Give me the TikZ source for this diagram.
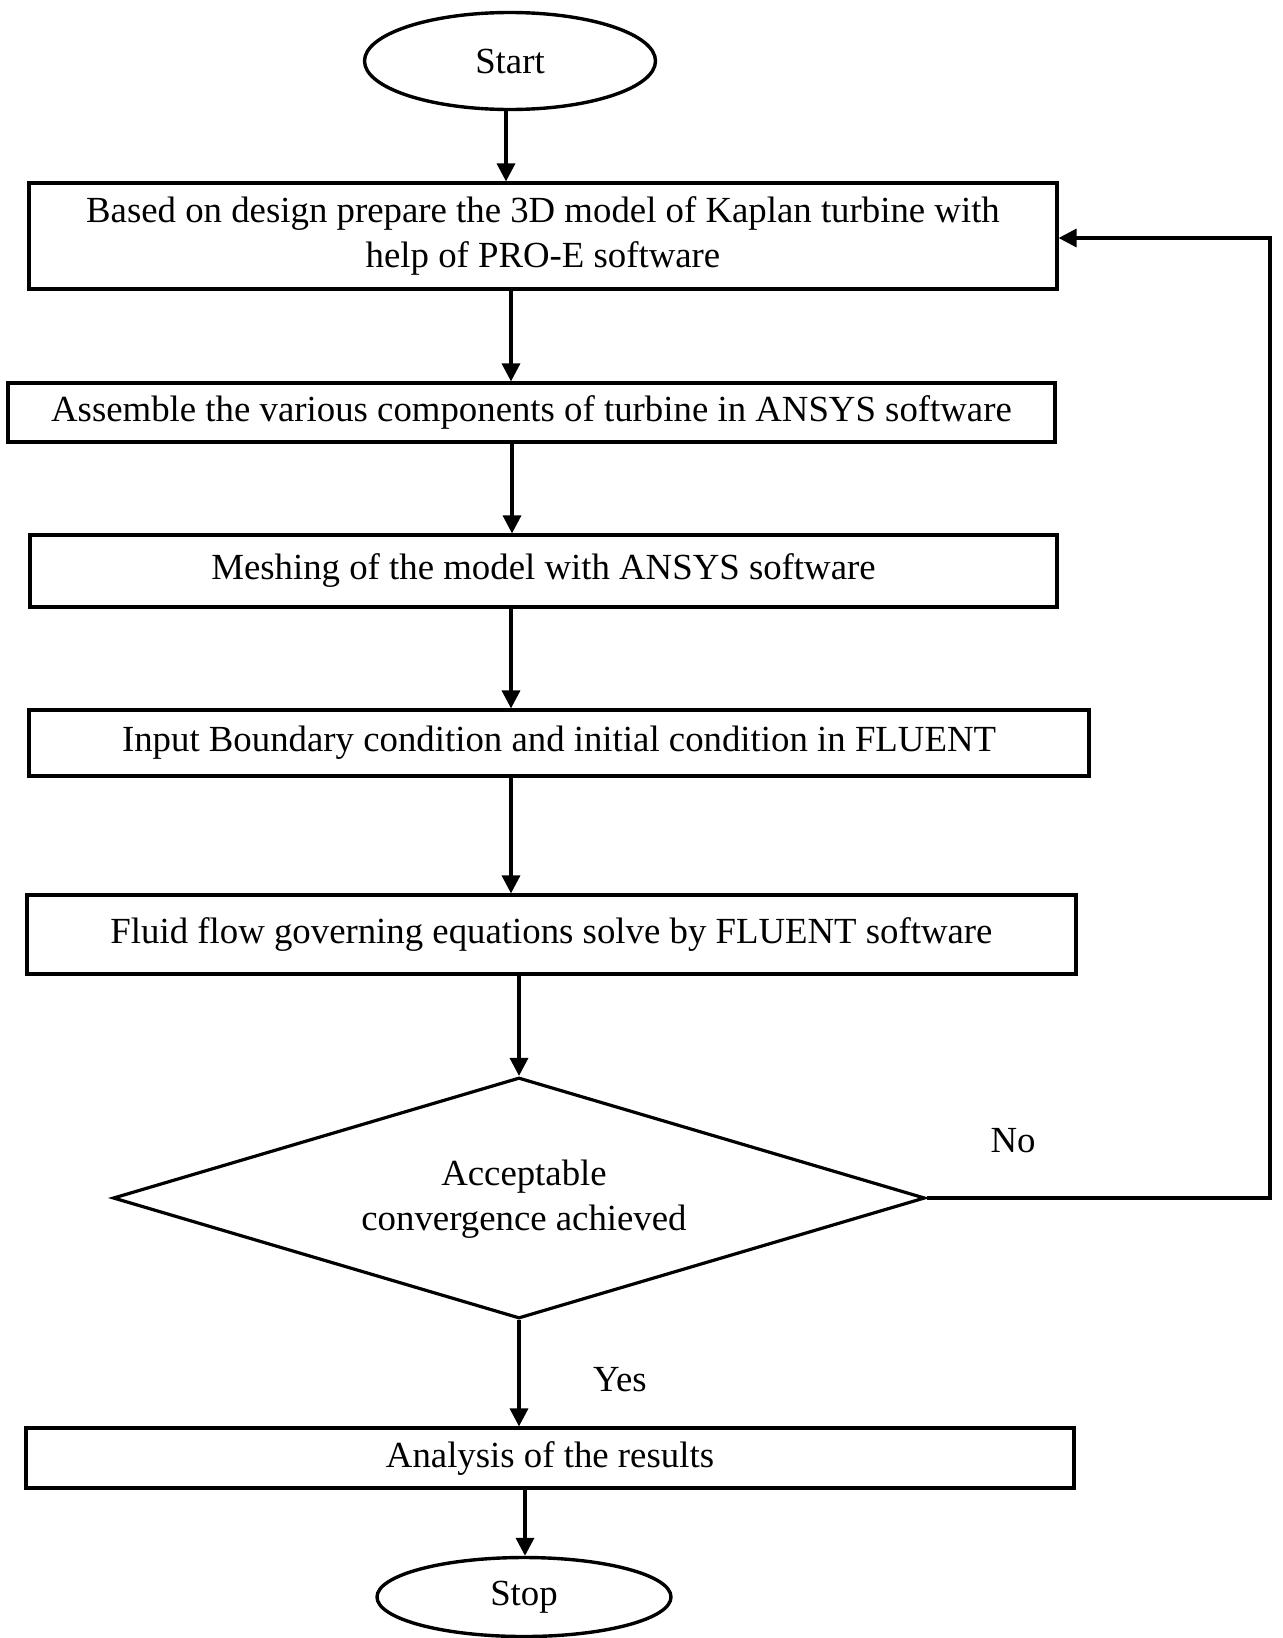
\documentclass[tikz,border=0pt]{standalone}
\usepackage{fontspec}
\setmainfont{Liberation Serif}
\usetikzlibrary{shapes.geometric,arrows.meta}
\begin{document}
\begin{tikzpicture}[x=0.5pt,y=-0.5pt,
  every node/.style={font=\fontsize{18.4}{22.5}\selectfont},
  procbox/.style={draw,line width=1.6pt,rectangle,inner sep=0pt,align=center},
  term/.style={draw,line width=1.7pt,ellipse,inner sep=0pt},
  decide/.style={draw,line width=1.6pt,diamond,inner sep=0pt,align=center},
  arr/.style={line width=1.7pt,-{Triangle[length=9pt,width=9pt]}},
  lbl/.style={inner sep=0pt}]
\useasboundingbox (0,0) rectangle (1282,1638);
\fill[white] (0,0) rectangle (1282,1638);

\node[term,minimum width=145.5pt,minimum height=48.5pt] (start) at (510,61) {Start};
\node[procbox,minimum width=514pt,minimum height=53pt] (b1) at (543,236)
  {Based on design prepare the 3D model of Kaplan turbine with\\help of PRO-E software};
\node[procbox,minimum width=523.5pt,minimum height=29.5pt] (b2) at (531.5,412.5)
  {Assemble the various components of turbine in ANSYS software};
\node[procbox,minimum width=513.5pt,minimum height=36pt] (b3) at (543.5,571)
  {Meshing of the model with ANSYS software};
\node[procbox,minimum width=530pt,minimum height=33pt] (b4) at (559,743)
  {Input Boundary condition and initial condition in FLUENT};
\node[procbox,minimum width=524.5pt,minimum height=39.5pt] (b5) at (551.5,934.5)
  {Fluid flow governing equations solve by FLUENT software};
\node[decide,minimum width=406pt,minimum height=120.5pt] (dia) at (519,1198) {};
\node[lbl,align=center] (diat) at (524,1199) {Acceptable\\convergence achieved};
\node[procbox,minimum width=524pt,minimum height=30pt] (b6) at (550,1458)
  {Analysis of the results};
\node[term,minimum width=147pt,minimum height=39.5pt] (stop) at (524,1597) {Stop};

\node[lbl] (no) at (1013,1141) {No};
\node[lbl] (yes) at (620,1380) {Yes};

\coordinate (x1) at (506,0);
\coordinate (x2) at (511,0);
\coordinate (x3) at (512,0);
\coordinate (x7) at (525,0);
\coordinate (fb) at (1270,238);

\draw[arr] (start.south -| x1) -- (b1.north -| x1);
\draw[arr] (b1.south -| x2) -- (b2.north -| x2);
\draw[arr] (b2.south -| x3) -- (b3.north -| x3);
\draw[arr] (b3.south -| x2) -- (b4.north -| x2);
\draw[arr] (b4.south -| x2) -- (b5.north -| x2);
\draw[arr] (b5.south -| dia.north) -- (dia.north);
\draw[arr] (dia.south) -- (b6.north -| dia.south);
\draw[arr] (b6.south -| x7) -- (stop.north -| x7);
\draw[arr] (dia.east) -| (fb) -- (b1.east |- fb);
\end{tikzpicture}
\end{document}
